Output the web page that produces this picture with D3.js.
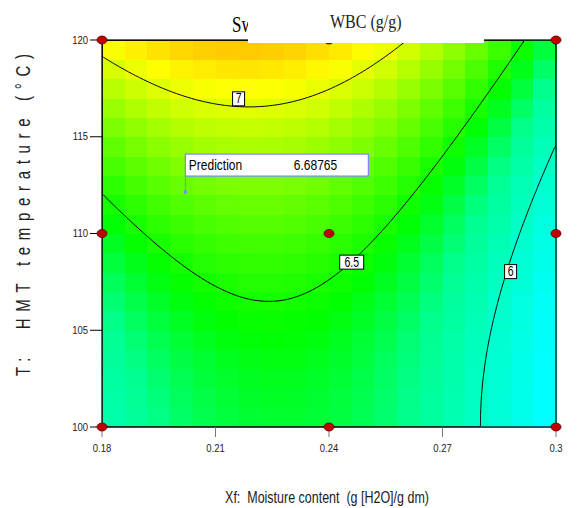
<!DOCTYPE html>
<html>
<head>
<meta charset="utf-8">
<script src="https://cdn.jsdelivr.net/npm/d3@7"></script>
<style>
  body { margin: 0; background: #fff; }
</style>
</head>
<body>
<svg id="chart"></svg>
<script>
// Size of the page
const width = 579;
const height = 508;
const sans = "Arial, 'Liberation Sans', sans-serif";
const serif = "'Liberation Serif', 'Times New Roman', serif";

// Factor ranges and ticks
const xDomain = [0.18, 0.30];
const tDomain = [100, 120];
const xTicks = [0.18, 0.21, 0.24, 0.27, 0.30];
const xTickLabels = ["0.18", "0.21", "0.24", "0.27", "0.3"];
const tTicks = [100, 105, 110, 115, 120];

// Design points (3x3 factorial)
const designX = [0.18, 0.18, 0.18, 0.24, 0.24, 0.24, 0.30, 0.30, 0.30];
const designT = [100, 110, 120, 100, 110, 120, 100, 110, 120];

// Quadratic model in coded factors (A = moisture, B = temperature)
const modelTerms = ["Intercept", "A", "B", "AB", "A^2", "B^2"];
const modelCoef = [6.589, -0.29, 0.416, -0.085, -0.49, 0.182];

// Contour levels and where their labels sit
const contourLevels = [6, 6.5, 7];
const labelText = ["7", "6.5", "6"];
const labelX = [0.2161, 0.2460, 0.2880];
const labelT = [116.96, 108.52, 108.03];

// Prediction flag
const predX = 0.2019;
const predT = 112.14;
const predValue = "6.68765";

const svg = d3.select("#chart")
    .attr("width", width)
    .attr("height", height)
    .style("font-family", sans);

const xScale = d3.scaleLinear().domain(xDomain).range([102, 556]);
const yScale = d3.scaleLinear().domain(tDomain).range([427, 40]);

// Coded-factor model
function model(x, t) {
    const a = (x - 0.24) / 0.06;
    const b = (t - 110) / 10;
    const terms = [1, a, b, a * b, a * a, b * b];
    return d3.sum(terms, (v, i) => v * modelCoef[i]);
}

const colorScale = d3.scaleLinear()
    .domain([5.72, 6.0, 6.22, 6.45, 7.07, 7.8])
    .range(["#00ffff", "#00ffc8", "#00ff90", "#00ff00", "#ffff00", "#ff0000"])
    .clamp(true);

// Colour cells, 20 x 20
const nCells = 20;
const cells = [];
for (let j = 0; j < nCells; j++) {
    for (let i = 0; i < nCells; i++) {
        const x0 = xDomain[0] + i * (xDomain[1] - xDomain[0]) / nCells;
        const x1 = xDomain[0] + (i + 1) * (xDomain[1] - xDomain[0]) / nCells;
        const t0 = tDomain[0] + j * (tDomain[1] - tDomain[0]) / nCells;
        const t1 = tDomain[0] + (j + 1) * (tDomain[1] - tDomain[0]) / nCells;
        cells.push({ x0, x1, t0, t1, v: model((x0 + x1) / 2, (t0 + t1) / 2) });
    }
}

svg.append("g")
    .selectAll("rect")
    .data(cells)
    .enter().append("rect")
    .attr("x", d => xScale(d.x0))
    .attr("y", d => yScale(d.t1))
    .attr("width", d => xScale(d.x1) - xScale(d.x0) + 0.5)
    .attr("height", d => yScale(d.t0) - yScale(d.t1) + 0.5)
    .attr("fill", d => colorScale(d.v))
    .attr("shape-rendering", "crispEdges");

// Contour lines from a fine grid
const nx = 180, ny = 180;
const values = [];
for (let j = 0; j < ny; j++) {
    for (let i = 0; i < nx; i++) {
        const x = xDomain[0] + (i + 0.5) / nx * (xDomain[1] - xDomain[0]);
        const t = tDomain[1] - (j + 0.5) / ny * (tDomain[1] - tDomain[0]);
        values.push(model(x, t));
    }
}
const contours = d3.contours().size([nx, ny]).thresholds(contourLevels)(values);
const gridToPx = d3.geoTransform({
    point: function (gx, gy) {
        this.stream.point(
            xScale(xDomain[0] + gx / nx * (xDomain[1] - xDomain[0])),
            yScale(tDomain[1] - gy / ny * (tDomain[1] - tDomain[0])));
    }
});
const path = d3.geoPath(gridToPx);

svg.append("clipPath").attr("id", "plotClip")
    .append("rect")
    .attr("x", 102).attr("y", 40).attr("width", 454).attr("height", 387);

svg.append("g")
    .attr("clip-path", "url(#plotClip)")
    .selectAll("path")
    .data(contours)
    .enter().append("path")
    .attr("d", path)
    .attr("fill", "none")
    .attr("stroke", "#000")
    .attr("stroke-width", 1);

// Contour labels
const labels = svg.append("g")
    .selectAll("g")
    .data(labelText)
    .enter().append("g")
    .attr("transform", (d, i) => `translate(${xScale(labelX[i])},${yScale(labelT[i])})`);
labels.append("rect")
    .attr("x", d => -(d.length * 3 + 3))
    .attr("y", -7)
    .attr("width", d => d.length * 6 + 6)
    .attr("height", 14)
    .attr("fill", "#fff")
    .attr("stroke", "#000")
    .attr("stroke-width", 1);
labels.append("text")
    .attr("transform", "translate(0,4.5) scale(1,1.35)")
    .attr("text-anchor", "middle")
    .attr("font-size", 10.5)
    .text(d => d);

// Frame
svg.append("rect")
    .attr("x", 102).attr("y", 40).attr("width", 454).attr("height", 387)
    .attr("fill", "none")
    .attr("stroke", "#000")
    .attr("stroke-width", 1.2);

// Axes ticks
const yAxis = svg.append("g");
yAxis.selectAll("line")
    .data(tTicks)
    .enter().append("line")
    .attr("x1", 90).attr("x2", 102)
    .attr("y1", d => yScale(d)).attr("y2", d => yScale(d))
    .attr("stroke", "#000");
yAxis.selectAll("text")
    .data(tTicks)
    .enter().append("text")
    .attr("transform", d => `translate(88,${yScale(d) + 3.5}) scale(1,1.1)`)
    .attr("text-anchor", "end")
    .attr("font-size", 9.5)
    .attr("fill", "#222")
    .text(d => d);

const xAxis = svg.append("g");
xAxis.selectAll("line")
    .data(xTicks)
    .enter().append("line")
    .attr("x1", d => xScale(d)).attr("x2", d => xScale(d))
    .attr("y1", 427).attr("y2", 437)
    .attr("stroke", "#777");
xAxis.selectAll("text")
    .data(xTicks)
    .enter().append("text")
    .attr("transform", d => `translate(${xScale(d)},452) scale(1,1.1)`)
    .attr("text-anchor", "middle")
    .attr("font-size", 9.5)
    .attr("fill", "#222")
    .text((d, i) => xTickLabels[i]);

// Design points
svg.append("g")
    .selectAll("ellipse")
    .data(designX)
    .enter().append("ellipse")
    .attr("cx", d => xScale(d))
    .attr("cy", (d, i) => yScale(designT[i]))
    .attr("rx", 5)
    .attr("ry", 4)
    .attr("fill", "#c00000")
    .attr("stroke", "#5a0000")
    .attr("stroke-width", 0.8);

// Prediction flag
const px = xScale(predX), py = yScale(predT);
const flag = svg.append("g");
flag.append("line")
    .attr("x1", px + 0.5).attr("x2", px + 0.5)
    .attr("y1", py).attr("y2", py - 16)
    .attr("stroke", "#8080ff");
flag.append("rect")
    .attr("x", px - 1).attr("y", py - 1.5).attr("width", 3).attr("height", 3)
    .attr("fill", "#8080ff");
flag.append("rect")
    .attr("x", px + 0.5).attr("y", py - 38)
    .attr("width", 183).attr("height", 22)
    .attr("fill", "#fff")
    .attr("stroke", "#8080ff")
    .attr("stroke-width", 1.2);
flag.append("text")
    .attr("transform", `translate(${px + 4},${py - 22}) scale(1,1.25)`)
    .attr("font-size", 12)
    .text("Prediction");
flag.append("text")
    .attr("transform", `translate(${px + 109},${py - 22}) scale(1,1.25)`)
    .attr("font-size", 12)
    .text(predValue);

// Title with its covering box
svg.append("text")
    .attr("transform", "translate(232,32) scale(1,1.3)")
    .style("font-family", serif)
    .attr("font-size", 17)
    .text("Swelling");
svg.append("rect")
    .attr("x", 248).attr("y", 0).attr("width", 236).attr("height", 43)
    .attr("fill", "#fff");
svg.append("text")
    .attr("transform", "translate(330,28) scale(1,1.15)")
    .style("font-family", serif)
    .attr("font-size", 16)
    .attr("fill", "#222")
    .text("WBC (g/g)");

// Axis titles
svg.append("text")
    .attr("transform", "translate(30,215) rotate(-90) scale(1,1.35)")
    .attr("text-anchor", "middle")
    .attr("font-size", 15)
    .attr("fill", "#222")
    .style("white-space", "pre")
    .attr("textLength", 322)
    .attr("lengthAdjust", "spacing")
    .text("T:  HMT temperature (°C)");

svg.append("text")
    .attr("transform", "translate(327,503) scale(1,1.25)")
    .attr("text-anchor", "middle")
    .attr("font-size", 12.5)
    .attr("fill", "#222")
    .style("white-space", "pre")
    .text("Xf:  Moisture content  (g [H2O]/g dm)");
</script>
</body>
</html>
